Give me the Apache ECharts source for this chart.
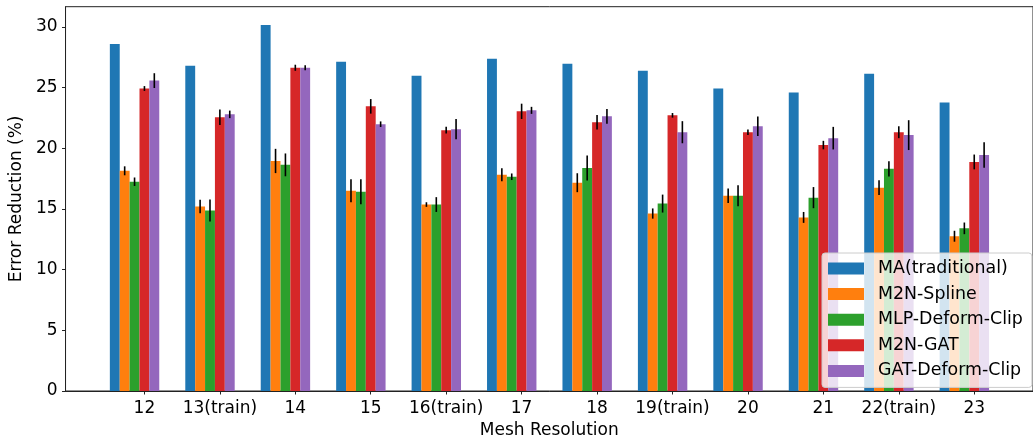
<!DOCTYPE html>
<html>
<head>
<meta charset="utf-8">
<script src="https://cdn.jsdelivr.net/npm/echarts@6/dist/echarts.min.js"></script>
<style>
html,body{margin:0;padding:0;background:#fff;}
#chart{width:1033px;height:444px;}
</style>
</head>
<body>
<div id="chart"></div>
<script>
const categories = ['12','13(train)','14','15','16(train)','17','18','19(train)','20','21','22(train)','23'];
const seriesNames = ['MA(traditional)','M2N-Spline','MLP-Deform-Clip','M2N-GAT','GAT-Deform-Clip'];
const maTraditional = [28.59, 26.80, 30.15, 27.12, 25.98, 27.37, 26.96, 26.39, 24.92, 24.59, 26.14, 23.77];
const m2nSpline     = [18.14, 15.20, 18.95, 16.50, 15.36, 17.81, 17.16, 14.62, 16.09, 14.30, 16.75, 12.75];
const m2nSplineErr  = [0.37, 0.56, 1.00, 0.95, 0.19, 0.54, 0.78, 0.42, 0.60, 0.45, 0.61, 0.45];
const mlpDeformClip = [17.24, 14.87, 18.63, 16.42, 15.36, 17.65, 18.38, 15.44, 16.09, 15.93, 18.30, 13.40];
const mlpDeformClipErr = [0.35, 0.90, 0.94, 1.03, 0.61, 0.27, 1.03, 0.74, 0.86, 0.87, 0.63, 0.48];
const m2nGat        = [24.92, 22.55, 26.63, 23.45, 21.49, 23.04, 22.14, 22.71, 21.32, 20.26, 21.32, 18.87];
const m2nGatErr     = [0.20, 0.64, 0.25, 0.60, 0.27, 0.63, 0.60, 0.19, 0.22, 0.35, 0.49, 0.61];
const gatDeformClip = [25.57, 22.79, 26.63, 21.98, 21.57, 23.12, 22.63, 21.32, 21.81, 20.83, 21.08, 19.44];
const gatDeformClipErr = [0.61, 0.31, 0.20, 0.23, 0.84, 0.29, 0.61, 0.91, 0.80, 0.93, 1.23, 1.05];
const yTicks = [0, 5, 10, 15, 20, 25, 30];

const colors = ['#1f77b4','#ff7f0e','#2ca02c','#d62728','#9467bd'];
const values = [maTraditional, m2nSpline, mlpDeformClip, m2nGat, gatDeformClip];
const errors = [null, m2nSplineErr, mlpDeformClipErr, m2nGatErr, gatDeformClipErr];
const BAR_W = 0.131;
const FONT = 'DejaVu Sans';

function makeRender(k) {
  return function (params, api) {
    const i = api.value(0), v = api.value(1), e = api.value(2);
    const xc = i + (k - 3) * BAR_W;
    const p0 = api.coord([xc - BAR_W / 2, v]);
    const p1 = api.coord([xc + BAR_W / 2, 0]);
    const children = [{
      type: 'rect',
      shape: {x: p0[0], y: p0[1], width: p1[0] - p0[0], height: p1[1] - p0[1]},
      style: {fill: api.visual('color')}
    }];
    if (e != null && !isNaN(e) && e > 0) {
      const a = api.coord([xc, v + e]);
      const b = api.coord([xc, v - e]);
      children.push({
        type: 'line',
        shape: {x1: a[0], y1: a[1], x2: b[0], y2: b[1]},
        style: {stroke: '#000', lineWidth: 1.6},
        z2: 10
      });
    }
    return {type: 'group', children: children};
  };
}

const series = seriesNames.map(function (name, k) {
  return {
    name: name,
    type: 'custom',
    renderItem: makeRender(k),
    encode: {x: 0, y: 1},
    itemStyle: {color: colors[k]},
    data: categories.map(function (c, i) {
      return [i, values[k][i], errors[k] ? errors[k][i] : 0];
    }),
    animation: false
  };
});

const chart = echarts.init(document.getElementById('chart'), null, {renderer: 'canvas'});
chart.setOption({
  animation: false,
  backgroundColor: '#fff',
  textStyle: {fontFamily: FONT, color: '#000'},
  grid: {left: 62, right: -6.4, top: 6.7, bottom: 49, show: true, borderColor: '#222', borderWidth: 1, backgroundColor: 'transparent'},
  legend: {
    orient: 'vertical',
    left: 822, top: 253,
    icon: 'rect',
    itemWidth: 36, itemHeight: 12,
    itemGap: 8.6,
    padding: [7, 9, 8, 6],
    backgroundColor: 'rgba(255,255,255,0.8)',
    borderColor: '#cccccc', borderWidth: 1, borderRadius: 3,
    textStyle: {fontFamily: FONT, fontSize: 17.4, color: '#000', lineHeight: 17, padding: [0, 0, 0, 9]},
    data: seriesNames
  },
  xAxis: {
    type: 'value',
    min: -1.046, max: 11.779,
    name: 'Mesh Resolution',
    nameLocation: 'middle',
    nameGap: 31,
    nameTextStyle: {fontFamily: FONT, fontSize: 17, color: '#000'},
    axisLine: {show: true, onZero: false, lineStyle: {color: '#222', width: 1}},
    axisTick: {show: true, length: 3.5, lineStyle: {color: '#222'}, customValues: categories.map(function (c, i) { return i; })},
    axisLabel: {
      fontFamily: FONT, fontSize: 17, color: '#000', margin: 9,
      customValues: categories.map(function (c, i) { return i; }),
      formatter: function (v) { return categories[Math.round(v)]; }
    },
    splitLine: {show: false}
  },
  yAxis: {
    type: 'value',
    min: 0, max: 31.66, interval: 5,
    name: 'Error Reduction (%)',
    nameLocation: 'middle',
    nameGap: 31,
    nameTextStyle: {fontFamily: FONT, fontSize: 17, color: '#000'},
    axisLine: {show: true, onZero: false, lineStyle: {color: '#222', width: 1}},
    axisTick: {show: true, length: 3.5, lineStyle: {color: '#222'}, customValues: yTicks},
    axisLabel: {fontFamily: FONT, fontSize: 17, color: '#000', margin: 8, customValues: yTicks},
    splitLine: {show: false}
  },
  series: series
});
</script>
</body>
</html>
